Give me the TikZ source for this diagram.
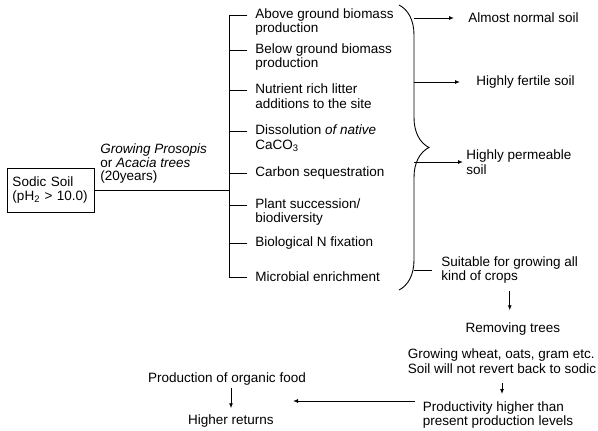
\documentclass[tikz,border=0pt]{standalone}
\usepackage{fontspec}
\setmainfont{Liberation Sans}
\usetikzlibrary{arrows.meta,positioning,calc,decorations.pathreplacing}

\begin{document}
\begin{tikzpicture}[x=1pt, y=-1pt, >={Latex[length=5pt,width=4pt]}, line width=0.9pt,
 font=\fontsize{13.5}{14.5}\selectfont, inner sep=2pt,
 soilbox/.style={draw,minimum width=87pt,minimum height=44pt,text width=76pt,align=left},
 factor/.style={anchor=west,align=left},
 outcome/.style={anchor=west,align=left},
 stage/.style={align=left}]
\useasboundingbox (0,0) rectangle (598,431);
% soil and the trees grown on it
\node[soilbox] (sodic) at (50.5,190) {Sodic Soil\\(pH\textsubscript{2} > 10.0)};
\coordinate (spine) at (229,190);
\draw (sodic.east) -- (spine);
\node[anchor=south west,align=left,font=\fontsize{13.5}{13.5}\selectfont] (trees) at (98,186)
  {\textit{Growing Prosopis}\\or \textit{Acacia trees}\\(20years)};
% what the trees do
\foreach \n/\y/\d/\txt in {1/22/7/{Above ground biomass\\production},
  2/57/7/{Below ground biomass\\production}, 3/96/6/{Nutrient rich litter\\additions to the site},
  4/138/7/{Dissolution \textit{of native}\\CaCO\textsubscript{3}}, 5/173/0/{Carbon sequestration},
  6/212/7/{Plant succession/\\biodiversity}, 7/243/0/{Biological N fixation},
  8/277/0/{Microbial enrichment}}{
  \node[factor] (f\n) at (253,\y) {\txt};
  \draw (f\n.west) ++(-6,-\d) coordinate (t\n) -- (t\n -| spine);
}
\draw (t1 -| spine) -- (t8 -| spine);
% brace and what comes of it
\draw[decorate,decoration={brace,amplitude=30pt,aspect=0.5}] (399,5) -- (399,290);
\coordinate (brx) at (414,0);
\node[outcome] (normal) at (466,18) {Almost normal soil};
\node[outcome] (fertile) at (474,82) {Highly fertile soil};
\node[outcome] (permeable) at (464,162) {Highly permeable\\soil};
\node[outcome] (crops) at (439,270) {Suitable for growing all\\kind of crops};
\draw[->,shorten >=12pt] (normal.west -| brx) -- (normal.west);
\draw[->,shorten >=14pt] (fertile.west -| brx) -- (fertile.west);
\draw[->,shorten >=1pt] (permeable.west -| brx) -- (permeable.west);
\draw[shorten >=7pt] (crops.west -| brx) -- (crops.west);
% after the trees
\node[stage] (removing) at (513,329) {Removing trees};
\node[stage] (wheat) at (502,361) {Growing wheat, oats, gram etc.\\Soil will not revert back to sodic};
\node[stage] (higher) at (498,415) {Productivity higher than\\present production levels};
\node[stage] (organic) at (227,379) {Production of organic food};
\node[stage] (returns) at (231,421) {Higher returns};
\coordinate (back) at (293,401);
\draw[->,shorten <=5pt,shorten >=10pt] (crops.south) -- (crops.south |- removing.north);
\draw[->,shorten <=7pt,shorten >=5pt] (wheat.south) -- (wheat.south |- higher.north);
\draw[->,shorten <=6pt] (higher.west |- back) -- (back);
\draw[->,shorten >=4pt] (returns.north |- organic.south) -- (returns.north);
\end{tikzpicture}
\end{document}
